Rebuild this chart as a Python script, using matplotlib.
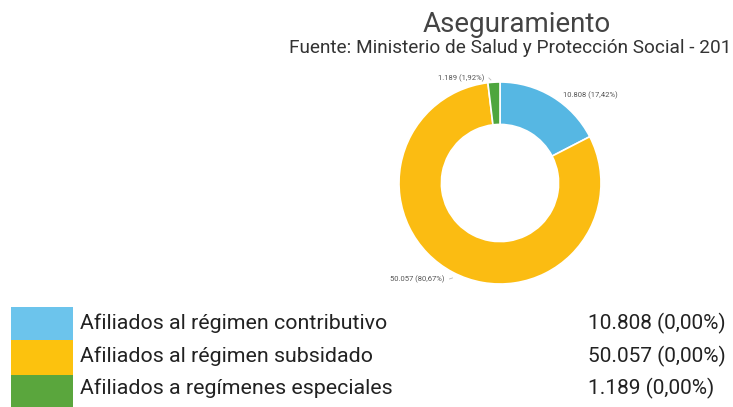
import matplotlib
matplotlib.use("Agg")
import matplotlib.pyplot as plt
from matplotlib.patches import Rectangle

categories = ["Afiliados al régimen contributivo",
              "Afiliados al régimen subsidado",
              "Afiliados a regímenes especiales"]
values = [10808, 50057, 1189]
slice_labels = ["10.808 (17,42%)", "50.057 (80,67%)", "1.189 (1,92%)"]
legend_values = ["10.808 (0,00%)", "50.057 (0,00%)", "1.189 (0,00%)"]
colors = ["#56b7e3", "#fbbc12", "#4ea63e"]
legend_colors = ["#6cc4ec", "#fcc20e", "#5aa63d"]

plt.rcParams['font.family'] = ['Roboto', 'DejaVu Sans']
W, H = 733, 407
fig = plt.figure(figsize=(W / 100, H / 100), dpi=100)

def fx(px):
    return px / W

def fy(py):
    return 1 - py / H

# Titles
fig.text(fx(517), fy(32), "Aseguramiento", ha="center", va="baseline",
         fontsize=20, color="#444444")
fig.text(fx(731), fy(53), "Fuente: Ministerio de Salud y Protección Social - 201",
         ha="right", va="baseline", fontsize=13.7, color="#333333")

# Donut
cx, cy, r = 500, 183, 101
ax = fig.add_axes([fx(cx - r), fy(cy + r), 2 * r / W, 2 * r / H])
wedges, _ = ax.pie(values, colors=colors, startangle=90, counterclock=False,
                   radius=1, wedgeprops=dict(width=0.42, edgecolor="white", linewidth=1.2))
ax.set_xlim(-1, 1)
ax.set_ylim(-1, 1)
ax.set_aspect("equal")
ax.axis("off")

label_pos = [(0.62, 0.87, "left"), (-0.545, -0.95, "right"), (-0.15, 1.04, "right")]
for lbl, (lx, ly, ha) in zip(slice_labels, label_pos):
    ax.text(lx, ly, lbl, ha=ha, va="center", fontsize=5.5, color="#555555", clip_on=False)
# short leader ticks
ax.plot([-0.50, -0.47], [-0.95, -0.94], color="#bbbbbb", lw=0.6, clip_on=False)
ax.plot([-0.11, -0.09], [1.04, 1.02], color="#bbbbbb", lw=0.6, clip_on=False)

# Legend
row_tops = [307, 340, 375]
row_bottoms = [340, 375, 407]
row_baselines = [329, 362, 394]
for i, cat in enumerate(categories):
    fig.patches.append(Rectangle((fx(11), fy(row_bottoms[i])), fx(73) - fx(11),
                                 fy(row_tops[i]) - fy(row_bottoms[i]),
                                 transform=fig.transFigure, facecolor=legend_colors[i],
                                 edgecolor="none"))
    fig.text(fx(80), fy(row_baselines[i]), cat, ha="left", va="baseline",
             fontsize=15.4, color="#222222")
    fig.text(fx(588), fy(row_baselines[i]), legend_values[i], ha="left", va="baseline",
             fontsize=15, color="#222222")

fig.savefig("out.png", dpi=100)
